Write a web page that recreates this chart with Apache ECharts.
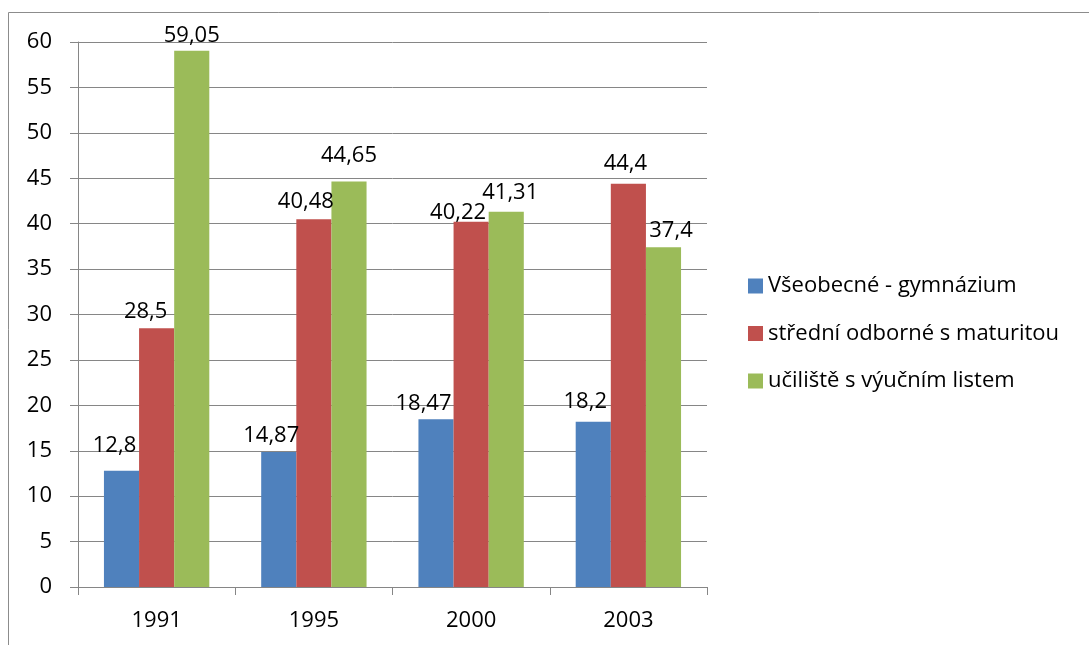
<!DOCTYPE html>
<html>
<head>
<meta charset="utf-8">
<script src="https://cdn.jsdelivr.net/npm/echarts@6/dist/echarts.min.js"></script>
<style>
  html, body { margin: 0; padding: 0; background: #fff; }
  #chart { width: 1089px; height: 645px; }
</style>
</head>
<body>
<div id="chart"></div>
<script>
// Školy podle typu vzdělání (%)
const years = ['1991', '1995', '2000', '2003'];
const seriesNames = ['Všeobecné - gymnázium', 'střední odborné s maturitou', 'učiliště s výučním listem'];
const gymnazium = [12.8, 14.87, 18.47, 18.2];
const odborne = [28.5, 40.48, 40.22, 44.4];
const uciliste = [59.05, 44.65, 41.31, 37.4];
const colors = ['#4F81BD', '#C0504D', '#9BBB59'];

// Hand-placed nudges for the value labels, [dx, lift above bar] in px
const labelNudge = [
  [[-7, 18], [-7.5, 10], [-12.5, 9], [-8, 13]],
  [[-11, 10], [-8, 11], [-13, 2], [-3, 13]],
  [[0, 8], [0, 19], [4, 13], [7.5, 10.5]]
];

const FONT = '"Open Sans", sans-serif';
const FS = 22;
const BASE_GAP = 4.5;
const fmt = v => String(v).replace('.', ',');

const chart = echarts.init(document.getElementById('chart'));

function barSeries(idx, data) {
  return {
    name: seriesNames[idx],
    type: 'bar',
    barGap: '0%',
    barCategoryGap: '33%',
    itemStyle: { color: colors[idx] },
    label: {
      show: true,
      position: 'top',
      distance: 0,
      color: '#000',
      fontFamily: FONT,
      fontSize: FS,
      formatter: p => fmt(p.value)
    },
    data: data.map((v, i) => ({
      value: v,
      label: { offset: [labelNudge[idx][i][0], -(labelNudge[idx][i][1] - BASE_GAP)] }
    }))
  };
}

chart.setOption({
  animation: false,
  textStyle: { fontFamily: FONT },
  graphic: [{
    type: 'rect',
    shape: { x: 8.5, y: 12.5, width: 1200, height: 800 },
    style: { fill: 'none', stroke: '#8c8c8c', lineWidth: 1 },
    silent: true
  }],
  grid: { left: 78, right: 382, top: 42, bottom: 58 },
  legend: {
    orient: 'vertical',
    left: 748,
    top: 275,
    padding: 0,
    itemWidth: 15,
    itemHeight: 15,
    itemGap: 25.5,
    icon: 'rect',
    textStyle: { color: '#000', fontSize: FS, fontFamily: FONT },
    data: seriesNames
  },
  xAxis: {
    type: 'category',
    data: years,
    axisLine: { lineStyle: { color: '#868686', width: 1 } },
    axisTick: { show: true, length: 8, lineStyle: { color: '#868686' } },
    axisLabel: { color: '#000', fontSize: FS, fontFamily: FONT, margin: 23 }
  },
  yAxis: {
    type: 'value',
    min: 0,
    max: 60,
    interval: 5,
    axisLine: { show: true, lineStyle: { color: '#868686', width: 1 } },
    axisTick: { show: true, length: 8, lineStyle: { color: '#868686' } },
    axisLabel: { color: '#000', fontSize: FS, fontFamily: FONT, margin: 26 },
    splitLine: { lineStyle: { color: '#868686', width: 1 } }
  },
  series: [
    barSeries(0, gymnazium),
    barSeries(1, odborne),
    barSeries(2, uciliste)
  ]
});
</script>
</body>
</html>
